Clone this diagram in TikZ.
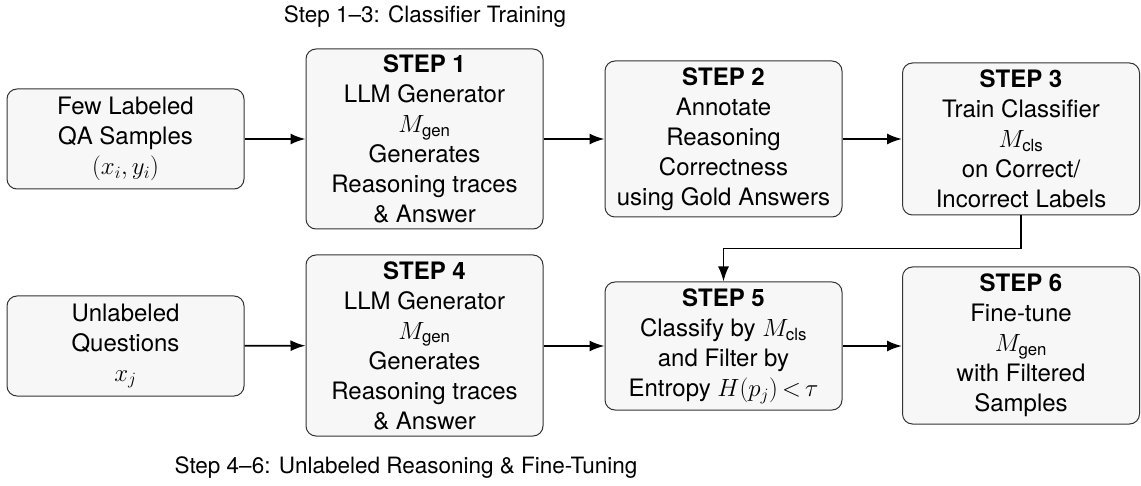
\documentclass[tikz,border=0pt]{standalone}
\usepackage{amsmath}
\usepackage{fontspec}
\setmainfont{TeX Gyre Heros}
\usetikzlibrary{arrows.meta,calc}
\begin{document}
\begin{tikzpicture}[x=1pt,y=1pt,
  box/.style={draw=black!80,line width=1pt,rounded corners=10pt,fill=black!3,
    align=center,inner sep=0pt,minimum width=237,font=\fontsize{24}{30}\selectfont},
  arr/.style={line width=1.8pt,-{Latex[length=15pt,width=11pt]}},
  ttl/.style={font=\fontsize{22.5}{28}\selectfont,inner sep=0pt}]
\useasboundingbox (0,0) rectangle (1141,-486);
\node[ttl] (t1) at (425,-17) {Step 1--3: Classifier Training};
\node[ttl] (t2) at (406,-468) {Step 4--6: Unlabeled Reasoning \& Fine-Tuning};
\node[box,minimum height=100] (a) at (125.5,-139) {Few Labeled\\QA Samples\\$(x_i, y_i)$};
\node[box,minimum height=180] (s1) at (424.5,-139) {\textbf{STEP 1}\\LLM Generator\\$M_{\text{gen}}$\\Generates\\Reasoning traces\\\& Answer};
\node[box,minimum height=156] (s2) at (723.5,-139) {\textbf{STEP 2}\\Annotate\\Reasoning\\Correctness\\using Gold Answers};
\node[box,minimum height=152] (s3) at (1021,-139) {\textbf{STEP 3}\\Train Classifier\\$M_{\text{cls}}$\\on Correct/\\Incorrect Labels};
\node[box,minimum height=100] (b) at (125.5,-346) {Unlabeled\\Questions\\$x_j$};
\node[box,minimum height=181] (s4) at (424.5,-345.5) {\textbf{STEP 4}\\LLM Generator\\$M_{\text{gen}}$\\Generates\\Reasoning traces\\\& Answer};
\node[box,minimum height=128] (s5) at (723.5,-346) {\textbf{STEP 5}\\Classify by $M_{\text{cls}}$\\and Filter by\\Entropy $H(p_j)\mathrel{\mkern-2mu<\mkern-2mu}\tau$};
\node[box,minimum height=157] (s6) at (1021,-345.5) {\textbf{STEP 6}\\Fine-tune\\$M_{\text{gen}}$\\with Filtered\\Samples};
\coordinate (bend) at (1021,-248.5);
\draw[arr] (a) -- (s1);
\draw[arr] (s1) -- (s2);
\draw[arr] (s2) -- (s3);
\draw[arr] (s3.south) -- (bend) -| (s5.north);
\draw[arr] (b) -- (s4);
\draw[arr] (s4.east |- b) -- (s5.west |- b);
\draw[arr] (s5) -- (s6.west |- s5);
\end{tikzpicture}
\end{document}
